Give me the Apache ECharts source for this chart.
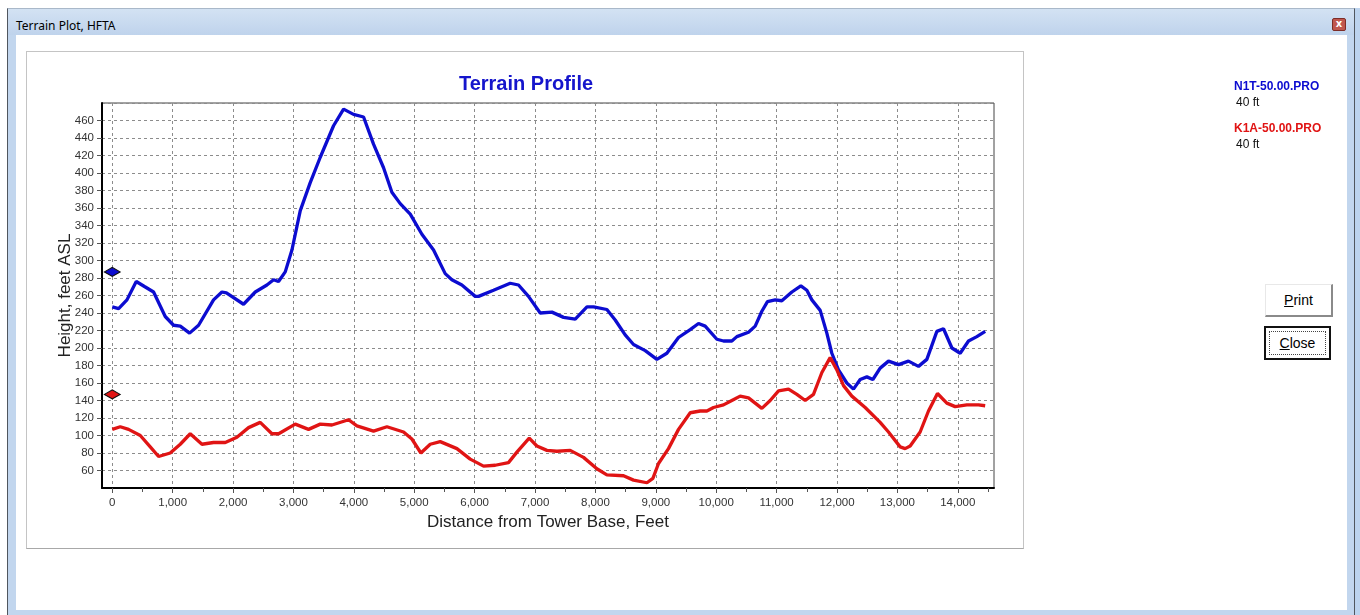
<!DOCTYPE html>
<html>
<head>
<meta charset="utf-8">
<title>Terrain Plot, HFTA</title>
<script src="https://cdn.jsdelivr.net/npm/echarts@6/dist/echarts.min.js"></script>
<style>
  html, body { margin: 0; width: 1360px; height: 615px; overflow: hidden; background: #fff; }
  .abs { position: absolute; box-sizing: border-box; }
  #outer { left: 1355px; top: 8px; width: 5px; height: 607px; background: #bcd3ee; }
  #frame { left: 7px; top: 8px; width: 1348px; height: 607px; background: #c2d6ee;
           border-left: 1px solid #50565e; border-right: 1px solid #50565e; border-top: 1px solid #a9b8c9; }
  #titlebar { left: 8px; top: 9px; width: 1346px; height: 26px;
              background: linear-gradient(to bottom, #d3e2f3, #bfd3ec); }
  #wintitle { left: 16px; top: 17px; font: 12px "Noto Sans", sans-serif; color: #000; white-space: nowrap; }
  #xbtn { left: 1332px; top: 18px; width: 14px; height: 13px; background: #c0574e; border: 1px solid #7d2d27;
          border-radius: 2px; color: #fff; font: bold 10px "DejaVu Sans", sans-serif; line-height: 10px; text-align: center; }
  #client { left: 16px; top: 35px; width: 1331px; height: 575px; background: #fff; }
  #panel { left: 26px; top: 51px; width: 998px; height: 498px; border: 1px solid #c4c4c4; border-bottom-color: #a8a8a8; }
  .btn { font: 14px "Liberation Sans", Arial, sans-serif; color: #000; text-align: center; background: #fff; }
  #print { left: 1265px; top: 284px; width: 68px; height: 33px; line-height: 31px;
           border-right: 2px solid #8a8a8a; border-bottom: 2px solid #8a8a8a; border-top: 1px solid #e8e8e8; border-left: 1px solid #e8e8e8; }
  #close { left: 1264px; top: 326px; width: 67px; height: 34px; border: 2px solid #111; line-height: 30px; }
  #close span.focus { position: absolute; left: 3px; top: 3px; right: 3px; bottom: 3px; border: 1px dotted #444; }
  #chart { left: 0; top: 0; width: 1360px; height: 615px; }
</style>
</head>
<body>
<div class="abs" id="outer"></div>
<div class="abs" id="frame"></div>
<div class="abs" id="titlebar"></div>
<div class="abs" id="wintitle">Terrain Plot, HFTA</div>
<div class="abs" id="xbtn">x</div>
<div class="abs" id="client"></div>
<div class="abs" id="panel"></div>
<div class="abs btn" id="print"><u>P</u>rint</div>
<div class="abs btn" id="close"><span class="focus"></span><u>C</u>lose</div>
<div class="abs" id="chart"></div>

<script>
// profile N1T-50.00.PRO (blue)
var n1tName = 'N1T-50.00.PRO';
var n1tDist = [0, 105, 243, 397, 540, 684, 877, 1015, 1126, 1280, 1429, 1677, 1816, 1890, 2174, 2368, 2561, 2671,
    2753, 2864, 2975, 3113, 3278, 3444, 3664, 3830, 3995, 4161, 4326, 4492, 4630, 4768, 4934, 5127, 5320, 5513,
    5623, 5789, 6010, 6065, 6313, 6589, 6727, 6892, 7086, 7280, 7473, 7666, 7860, 7970, 8190, 8328, 8493, 8631,
    8825, 9018, 9183, 9376, 9570, 9707, 9818, 10011, 10121, 10259, 10342, 10535, 10646, 10756, 10849, 10977,
    11087, 11253, 11402, 11501, 11584, 11722, 11832, 11915, 12025, 12163, 12273, 12384, 12495, 12594, 12715,
    12853, 13019, 13184, 13350, 13488, 13654, 13764, 13903, 14040, 14178, 14316, 14454];
var n1tHeight = [247, 245, 255, 276, 270, 264, 236, 226, 225, 217, 226, 255, 264, 263, 250, 264, 272, 278,
    276, 287, 312, 357, 389, 418, 454, 473, 467, 464, 433, 406, 378, 365, 353, 330, 312, 285,
    278, 272, 259, 259, 266, 274, 272, 259, 240, 241, 235, 233, 247, 247, 244, 232, 215, 204,
    197, 187, 194, 212, 221, 228, 225, 210, 208, 208, 213, 218, 225, 242, 253, 255,
    254, 264, 271, 266, 255, 243, 217, 194, 175, 160, 153, 164, 167, 164, 177,
    185, 181, 185, 179, 187, 219, 222, 200, 194, 208, 213, 219];

// profile K1A-50.00.PRO (red)
var k1aName = 'K1A-50.00.PRO';
var k1aDist = [0, 132, 270, 464, 629, 767, 960, 1126, 1291, 1485, 1677, 1871, 2064, 2257, 2450, 2644, 2755,
    3030, 3250, 3444, 3637, 3913, 4051, 4326, 4548, 4823, 4961, 5110, 5265, 5430, 5707, 5927, 6148, 6341,
    6561, 6700, 6904, 7031, 7197, 7362, 7583, 7803, 8024, 8190, 8466, 8631, 8853, 8952, 9045, 9210, 9376,
    9570, 9735, 9846, 9956, 10121, 10259, 10397, 10535, 10756, 10894, 11032, 11198, 11336, 11474, 11611,
    11750, 11887, 11998, 12108, 12246, 12467, 12715, 12853, 13046, 13129, 13212, 13377, 13515, 13664,
    13819, 13957, 14150, 14344, 14454];
var k1aHeight = [107, 110, 107, 100, 87, 76, 80, 90, 102, 90, 92, 92, 98, 109, 115, 102, 102,
    113, 107, 113, 112, 118, 111, 105, 110, 104, 96, 80, 90, 93, 85, 73, 65, 66,
    69, 81, 97, 88, 83, 82, 83, 75, 62, 55, 54, 49, 46, 51, 68, 85, 107,
    126, 128, 128, 132, 135, 140, 145, 143, 131, 140, 151, 153, 147, 140, 147,
    172, 189, 175, 157, 145, 132, 115, 104, 87, 85, 88, 104, 128, 148,
    137, 133, 135, 135, 134];

// antenna height above ground at the tower (both profiles)
var towerHeight = 40;

// axis ticks
var xTicks = [0, 1000, 2000, 3000, 4000, 5000, 6000, 7000, 8000, 9000, 10000, 11000, 12000, 13000, 14000];
var xMinorTicks = [500, 1500, 2500, 3500, 4500, 5500, 6500, 7500, 8500, 9500, 10500, 11500, 12500, 13500, 14500];

var blue = '#0c0cd0';
var red = '#e01414';
var font = '"Liberation Sans", Arial, sans-serif';

function pairs(xs, ys) {
    var out = [];
    for (var i = 0; i < xs.length; i++) {
        out.push([xs[i], ys[i]]);
    }
    return out;
}

var gridLine = { show: true, lineStyle: { color: '#8c8c8c', width: 1, type: [3, 3] } };

var option = {
    animation: false,
    title: {
        text: 'Terrain Profile',
        left: 521,
        top: 69,
        textAlign: 'center',
        textStyle: { color: '#1515cc', fontSize: 20, fontWeight: 'bold', fontFamily: font }
    },
    legend: {
        orient: 'vertical',
        left: 1224,
        top: 76,
        icon: 'none',
        itemWidth: 0,
        itemGap: 14,
        selectedMode: false,
        data: [n1tName, k1aName],
        formatter: function (name) {
            var key = name === n1tName ? 'b' : 'r';
            return '{' + key + '|' + name + '}\n{h|' + towerHeight + ' ft}';
        },
        textStyle: {
            rich: {
                b: { color: blue, fontWeight: 'bold', fontSize: 12, lineHeight: 16, fontFamily: font },
                r: { color: red, fontWeight: 'bold', fontSize: 12, lineHeight: 16, fontFamily: font },
                h: { color: '#111', fontSize: 12, lineHeight: 16, fontFamily: font, padding: [0, 0, 0, 2] }
            }
        }
    },
    grid: {
        left: 102, top: 103, width: 892, height: 385,
        show: true, borderColor: '#444', borderWidth: 1
    },
    xAxis: [{
        type: 'value',
        min: -170,
        max: 14600,
        name: 'Distance from Tower Base, Feet',
        nameLocation: 'middle',
        nameGap: 26,
        nameMoveOverlap: false,
        nameTextStyle: { fontSize: 17, color: '#222', fontFamily: font },
        axisLine: { onZero: false, lineStyle: { color: '#000', width: 2 } },
        axisTick: { show: true, customValues: xTicks, length: 5, lineStyle: { color: '#555' } },
        axisLabel: {
            customValues: xTicks, margin: 9, fontSize: 11.5, color: '#333', fontFamily: font,
            formatter: function (v) { return v.toLocaleString('en-US'); }
        },
        splitLine: gridLine
    }, {
        type: 'value',
        min: -170,
        max: 14600,
        position: 'bottom',
        axisLine: { show: false },
        axisLabel: { show: false },
        splitLine: { show: false },
        axisTick: { show: true, customValues: xMinorTicks, length: 4, lineStyle: { color: '#555' } }
    }],
    yAxis: {
        type: 'value',
        min: 40,
        max: 480,
        interval: 20,
        name: 'Height, feet ASL',
        nameLocation: 'middle',
        nameGap: 28,
        nameMoveOverlap: false,
        nameTextStyle: { fontSize: 17, color: '#222', fontFamily: font },
        axisLine: { onZero: false, lineStyle: { color: '#000', width: 2 } },
        axisTick: { show: true, length: 5, lineStyle: { color: '#555' } },
        axisLabel: { margin: 8, fontSize: 11.5, color: '#333', fontFamily: font, showMinLabel: false, showMaxLabel: false },
        splitLine: gridLine
    },
    series: [{
        name: n1tName,
        type: 'line',
        data: pairs(n1tDist, n1tHeight),
        showSymbol: false,
        lineStyle: { color: blue, width: 3.3 },
        itemStyle: { color: blue },
        markPoint: {
            silent: true,
            symbol: 'diamond',
            symbolSize: [16, 9],
            label: { show: false },
            itemStyle: { color: blue, borderColor: '#111', borderWidth: 1 },
            data: [{ coord: [n1tDist[0], n1tHeight[0] + towerHeight] }]
        }
    }, {
        name: k1aName,
        type: 'line',
        data: pairs(k1aDist, k1aHeight),
        showSymbol: false,
        lineStyle: { color: red, width: 3.3 },
        itemStyle: { color: red },
        markPoint: {
            silent: true,
            symbol: 'diamond',
            symbolSize: [16, 9],
            label: { show: false },
            itemStyle: { color: red, borderColor: '#111', borderWidth: 1 },
            data: [{ coord: [k1aDist[0], k1aHeight[0] + towerHeight] }]
        }
    }]
};

var chart = echarts.init(document.getElementById('chart'));
chart.setOption(option);
</script>
</body>
</html>
